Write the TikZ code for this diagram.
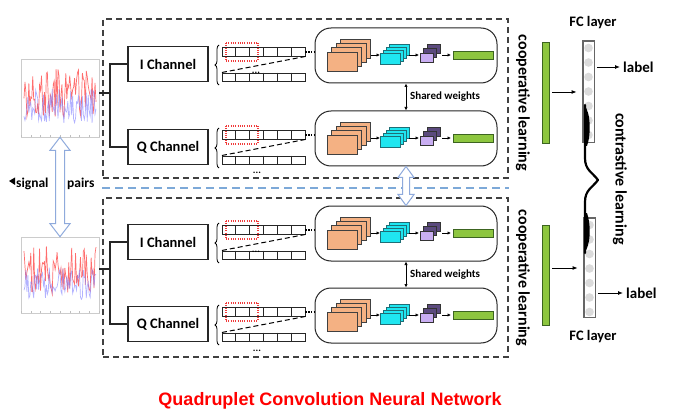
\documentclass[tikz,border=0pt]{standalone}
\usepackage{fontspec}
\setmainfont{Carlito}
\newfontfamily\titlefont{Liberation Sans}
\usetikzlibrary{arrows.meta,decorations.pathreplacing,calc}
\definecolor{orangeL}{HTML}{F4B183}
\definecolor{cyanL}{HTML}{1FE6F0}
\definecolor{cyanD}{HTML}{1E6E76}
\definecolor{purpF}{HTML}{C9AEF2}
\definecolor{purpB}{HTML}{5B4A7E}
\definecolor{greenL}{HTML}{8DC63F}
\definecolor{greenD}{HTML}{3C6420}
\definecolor{hollowblue}{HTML}{8FAADC}
\definecolor{dashblue}{HTML}{7DA9D8}
\definecolor{sigred}{HTML}{FF3030}
\definecolor{sigblue}{HTML}{8080FF}
\definecolor{dotred}{HTML}{F03A3A}
\newcommand\vhollow[5]{%
 \draw[hollowarr] let \p1=#1, \p2=#2 in
 (\x1,\y1) -- ({\x1+#4},{\y1-#5}) -- ({\x1+#3},{\y1-#5}) -- ({\x1+#3},{\y2+#5}) -- ({\x1+#4},{\y2+#5}) -- (\x1,\y2) -- ({\x1-#4},{\y2+#5}) -- ({\x1-#3},{\y2+#5}) -- ({\x1-#3},{\y1-#5}) -- ({\x1-#4},{\y1-#5}) -- cycle;}
\begin{document}
\begin{tikzpicture}[x=1pt,y=-1pt,
 conn/.style={line width=1.1pt, black!85},
 chbox/.style={draw=black!85, line width=1.1pt, minimum width=80, minimum height=35, inner sep=0, font=\bfseries\fontsize{14.5}{16}\selectfont},
 cnnbox/.style={draw=black!85, line width=1pt, rounded corners=16pt, minimum width=182, minimum height=55, inner sep=0},
 stripbox/.style={draw=black!85, line width=0.9pt, minimum width=83, minimum height=8.5, inner sep=0},
 stripline/.style={black!85, line width=0.9pt},
 layer/.style={draw=black!75, line width=0.6pt, inner sep=0, outer sep=0},
 smallarr/.style={-{Latex[length=3.5pt,width=3.5pt]}, line width=0.7pt},
 arr/.style={-{Latex[length=5pt,width=4pt]}, line width=0.9pt},
 outerdash/.style={draw=black!75, dash pattern=on 6pt off 4pt, line width=1.1pt, inner sep=0, minimum width=405, minimum height=159},
 hollowarr/.style={draw=hollowblue, fill=white, line width=1pt, line join=miter},
 lbl/.style={font=\bfseries\fontsize{14.5}{16}\selectfont, inner sep=1pt},
 biglbl/.style={font=\bfseries\fontsize{16}{16}\selectfont, inner sep=0},
 dots/.style={font=\bfseries\fontsize{10}{10}\selectfont, inner sep=0, anchor=base},
 sigframe/.style={draw=gray!40, line width=0.6pt, fill=white, minimum width=78, inner sep=0},
 fccol/.style={draw=black!60, fill=white, line width=0.8pt, minimum width=11, inner sep=0},
 gbar/.style={fill=greenL, draw=greenD, line width=0.6pt, minimum width=7, inner sep=0},
 redsel/.style={draw=dotred, dash pattern=on 1pt off 1.3pt, line width=1.1pt},
]
\fill[white] (0,0) rectangle (675,417);
\useasboundingbox (0,0) rectangle (675,417);

% outer dashed boxes
\node[outerdash] (topbox) at (305.5,98.5) {};
\node[outerdash] (botbox) at (305.5,277.5) {};
\draw[dashblue, dash pattern=on 8pt off 5pt, line width=1.2pt]
 ($(topbox.south west)!0.5!(botbox.north west)$) -- ($(topbox.south east)!0.5!(botbox.north east)$);

% signal plots
\node[sigframe, minimum height=78] (img1) at (60,98) {};
\node[sigframe, minimum height=76] (img2) at (60,275) {};
\pgfmathsetseed{7}
\begin{scope}
 \clip (img1.south west) rectangle (img1.north east);
 \draw[sigred, opacity=.7, line width=.7pt] plot[domain=24:96, samples=75] (\x,{93+24*rand});
 \draw[sigblue, opacity=.6, line width=.7pt] plot[domain=24:96, samples=75] (\x,{106+17*rand});
\end{scope}
\begin{scope}
 \clip (img2.south west) rectangle (img2.north east);
 \draw[sigred, opacity=.7, line width=.7pt] plot[domain=24:96, samples=75] (\x,{270+24*rand});
 \draw[sigblue, opacity=.6, line width=.7pt] plot[domain=24:96, samples=75] (\x,{283+17*rand});
\end{scope}
\foreach \t in {0,...,8} {
 \draw[gray!50, line width=.4pt] ({21+78*\t/8},137) -- ++(0,-2);
 \draw[gray!50, line width=.4pt] ({21+78*\t/8},313) -- ++(0,-2);
}

% rows
\foreach \k/\yy/\lab in {1/28/I, 2/111/Q, 3/206/I, 4/288/Q} {
 \begin{scope}[shift={(0,\yy)}]
  \node[cnnbox] (cnn\k) at (406,27.5) {};
  \node[chbox] (ch\k) at (168,36) {\lab\ Channel};
  \node[stripbox] (sa\k) at (263.5,23.75) {};
  \node[stripbox] (sb\k) at (263.5,49.25) {};
  \foreach \c in {1,...,5} {
   \draw[stripline] ($(sa\k.north west)!\c/6!(sa\k.north east)$) -- ($(sa\k.south west)!\c/6!(sa\k.south east)$);
   \draw[stripline] ($(sb\k.north west)!\c/6!(sb\k.north east)$) -- ($(sb\k.south west)!\c/6!(sb\k.south east)$);
  }
  \draw[redsel] (226,15) -- (258,15);
  \draw[redsel] (226,33) -- (258,33);
  \draw[redsel] (226,15) -- (226,33);
  \draw[redsel] (258,15) -- (258,33);
  \draw[decorate, decoration={brace, amplitude=4pt}, line width=0.8pt] (219,57) -- (219,17);
  \draw[dash pattern=on 5pt off 3pt, line width=1pt] (sa\k.south east) -- (sb\k.north west);
  \draw[dash pattern=on 1.5pt off 1.2pt, line width=1.8pt] (sa\k.east) -- (sa\k.east -| cnn\k.west);
  \ifodd\k\relax
   \node[dots] at (256,46) {...};
  \else
   \node[dots] at (257,63) {...};
  \fi
  % orange stack
  \foreach \s in {3,2,1,0}
   \node[layer, fill=orangeL, minimum width=30, minimum height=19] (o\k s\s) at ({342+4.5*\s},{33.5-4.3*\s}) {};
  % cyan stack
  \foreach \s in {3,2,1,0}
   \node[layer, draw=cyanD, fill=cyanL, minimum width=20, minimum height=11] (c\k s\s) at ({390+3*\s},{30.5-3*\s}) {};
  % purple stack
  \foreach \s in {2,1}
   \node[layer, draw=black!80, fill=purpB, minimum width=13, minimum height=9] (p\k s\s) at ({426.5+3.5*\s},{29.5-4.3*\s}) {};
  \node[layer, draw=black!80, fill=purpF, minimum width=13, minimum height=9] (p\k s0) at (426.5,29.5) {};
  % green output
  \node[layer, draw=greenD, fill=greenL, minimum width=40, minimum height=8] (g\k) at (473,27) {};
  \draw[smallarr] (o\k s3.east |- g\k.west) -- (c\k s0.west |- g\k.west);
  \draw[smallarr, shorten >=1pt] (c\k s3.east |- g\k.west) -- (p\k s0.west |- g\k.west);
  \draw[smallarr, shorten >=2pt, shorten <=2pt] (p\k s2.east |- g\k.west) -- (g\k.west);
 \end{scope}
}

% channel connectors
\coordinate (sp1) at (110,93);
\coordinate (sp2) at (110,269);
\draw[conn] (img1.east |- sp1) -- (sp1);
\draw[conn] (ch1.west) -| (sp1) |- (ch2.west);
\draw[conn] (img2.east |- sp2) -- (sp2);
\draw[conn] (ch3.west) -| (sp2) |- (ch4.west);

% shared weights
\draw[{Latex[length=3.5pt,width=3.5pt]}-{Latex[length=3.5pt,width=3.5pt]}, line width=0.8pt] (cnn1.south) -- (cnn2.north);
\draw[{Latex[length=3.5pt,width=3.5pt]}-{Latex[length=3.5pt,width=3.5pt]}, line width=0.8pt] (cnn3.south) -- (cnn4.north);
\node[font=\bfseries\fontsize{11}{12}\selectfont, anchor=west, inner sep=0] (sw1) at (410,97) {Shared weights};
\node[font=\bfseries\fontsize{11}{12}\selectfont, anchor=west, inner sep=0] (sw2) at (410,274.5) {Shared weights};

% hollow arrows
\vhollow{(img1.south)}{(img2.north)}{4.5pt}{10pt}{13pt}
\vhollow{(cnn2.south)}{(cnn3.north)}{3.5pt}{8pt}{11pt}

% signal pairs
\fill (9,181) -- (15,177.5) -- (15,185) -- cycle;
\node[font=\bfseries\fontsize{13.5}{14}\selectfont, anchor=west, inner sep=0] (sigl) at (16,184) {signal};
\node[font=\bfseries\fontsize{13.5}{14}\selectfont, anchor=west, inner sep=0] (pairs) at (67,184) {pairs};

% cooperative learning
\node[biglbl, rotate=-90] (coop1) at (523,103) {cooperative learning};
\node[biglbl, rotate=-90] (coop2) at (523,278) {cooperative learning};
\node[gbar, minimum height=101] (gb1) at (545.5,92.5) {};
\node[gbar, minimum height=100] (gb2) at (545.5,275) {};

% FC layers
\node[fccol, minimum height=101] (fc1) at (588.5,91.5) {};
\node[fccol, minimum height=99] (fc2) at (589.5,267.5) {};
\foreach \i in {0,...,6} {
 \fill[gray!28] (588.5,{48+14.5*\i}) circle (4.3);
 \fill[gray!28] (589.5,{225+14.5*\i}) circle (4.3);
}
\draw[black!60, line width=0.8pt] (fc1.south west) rectangle (fc1.north east);
\draw[black!60, line width=0.8pt] (fc2.south west) rectangle (fc2.north east);
\draw[arr, shorten <=3pt, shorten >=6pt] (gb1.east |- 0,92) -- (fc1.west |- 0,92);
\draw[arr, shorten <=3pt, shorten >=6pt] (gb2.east |- 0,268) -- (fc2.west |- 0,268);
\node[lbl] (fcl1) at (593,23) {FC layer};
\node[lbl] (fcl2) at (593,337) {FC layer};
\node[lbl, font=\bfseries\fontsize{15}{16}\selectfont, anchor=west] (lab1) at (622,67) {label};
\node[lbl, font=\bfseries\fontsize{15}{16}\selectfont, anchor=west] (lab2) at (625,293) {label};
\draw[arr, shorten <=3pt, shorten >=2pt] (fc1.east |- lab1.west) -- (lab1.west);
\draw[arr, shorten <=3pt, shorten >=2pt] (fc2.east |- lab2.west) -- (lab2.west);

% contrastive brace
\coordinate (bt) at (585,105);
\coordinate (bb) at (585,253);
\coordinate (btip) at (598,180);
\draw[line width=2.2pt, line cap=round, line join=round] (bt) -- (585,158)
 .. controls (585,170) and (592,172) .. (btip)
 .. controls (592,188) and (585,190) .. (585,202) -- (bb);
\fill (584,105) .. controls (591,112) and (591,135) .. (587,146) -- (584,146) -- cycle;
\fill (584,253) .. controls (591,246) and (591,224) .. (587,213) -- (584,213) -- cycle;
\node[biglbl, rotate=-90] (contr) at (620,179) {contrastive learning};

% title
\node[font=\titlefont\bfseries\fontsize{18}{20}\selectfont, text=red, inner sep=0] (title) at (330,401) {Quadruplet Convolution Neural Network};
\end{tikzpicture}
\end{document}
